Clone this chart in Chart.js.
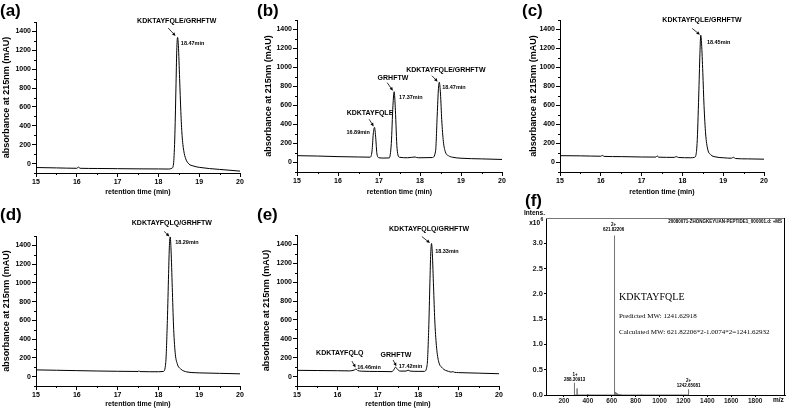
<!DOCTYPE html>
<html lang="en">
<head>
<meta charset="UTF-8">
<title>HPLC / MS panels</title>
<script src="https://cdn.jsdelivr.net/npm/chart.js@4"></script>
<style>
    body {
        margin: 0;
        background: #fff;
        width: 787px;
        height: 409px;
        position: relative;
        overflow: hidden;
    }
    canvas {
        position: absolute;
    }
</style>
</head>
<body>
<canvas id="ca" width="262" height="204" style="left:0;top:0"></canvas>
<canvas id="cb" width="269" height="204" style="left:255px;top:0"></canvas>
<canvas id="cc" width="266" height="204" style="left:521px;top:0"></canvas>
<canvas id="cd" width="262" height="205" style="left:0;top:204px"></canvas>
<canvas id="ce" width="269" height="205" style="left:255px;top:204px"></canvas>
<canvas id="cf" width="263" height="219" style="left:524px;top:190px"></canvas>
<script>
// ---- data (time in min, absorbance in mAU) ----
const timeA = [15.0, 15.5, 16.0, 16.04, 16.08, 16.5, 17.0, 17.5, 18.0, 18.25, 18.33, 18.37, 18.40, 18.43, 18.45, 18.47, 18.49, 18.52, 18.55, 18.58, 18.62, 18.67, 18.75, 18.85, 19.0, 19.5, 20.0];
const absA  = [-42, -46, -50, -38, -50, -52, -54, -56, -57, -58, -50, -5, 250, 800, 1200, 1337, 1250, 900, 550, 300, 140, 50, -5, -25, -40, -62, -80];

const timeB = [15.0, 15.5, 16.0, 16.5, 16.78, 16.83, 16.86, 16.89, 16.92, 16.95, 17.0, 17.1, 17.25, 17.30, 17.34, 17.37, 17.40, 17.44, 17.5, 17.7, 17.88, 17.92, 18.0, 18.3, 18.38, 18.42, 18.45, 18.47, 18.50, 18.53, 18.57, 18.62, 18.7, 18.8, 19.0, 19.5, 20.0];
const absB  = [72, 68, 62, 58, 56, 120, 300, 370, 260, 90, 50, 47, 48, 200, 600, 745, 550, 150, 55, 50, 58, 52, 50, 52, 120, 500, 780, 845, 720, 450, 220, 110, 70, 55, 45, 38, 32];

const timeC = [15.0, 15.5, 16.0, 16.04, 16.08, 16.5, 17.0, 17.35, 17.38, 17.42, 17.8, 17.85, 17.9, 18.2, 18.3, 18.36, 18.40, 18.43, 18.45, 18.47, 18.50, 18.53, 18.57, 18.62, 18.7, 18.8, 19.0, 19.2, 19.25, 19.3, 19.6, 20.0];
const absC  = [72, 70, 66, 75, 64, 62, 58, 57, 70, 56, 54, 62, 53, 50, 55, 200, 700, 1150, 1340, 1250, 950, 600, 300, 140, 80, 60, 50, 45, 55, 42, 38, 35];

const timeD = [15.0, 15.5, 16.0, 16.5, 17.0, 17.5, 17.52, 17.55, 18.0, 18.12, 18.18, 18.22, 18.25, 18.27, 18.29, 18.31, 18.34, 18.37, 18.41, 18.46, 18.55, 18.7, 18.9, 19.0, 19.5, 20.0];
const absD  = [72, 68, 64, 60, 57, 55, 60, 54, 52, 55, 150, 600, 1100, 1400, 1490, 1350, 950, 550, 260, 140, 80, 50, 42, 40, 35, 30];

const timeE = [15.0, 15.5, 16.0, 16.3, 16.42, 16.46, 16.5, 16.6, 17.0, 17.35, 17.40, 17.44, 17.48, 17.55, 17.7, 17.75, 17.8, 18.0, 18.15, 18.22, 18.26, 18.29, 18.31, 18.33, 18.35, 18.38, 18.41, 18.45, 18.5, 18.6, 18.75, 18.82, 18.86, 18.9, 19.0, 19.5, 20.0];
const absE  = [66, 64, 62, 60, 70, 80, 65, 57, 54, 52, 75, 100, 80, 58, 58, 68, 58, 55, 55, 120, 500, 1000, 1300, 1410, 1300, 950, 600, 330, 170, 90, 55, 48, 52, 45, 42, 36, 30];

const rtTicks = [15, 16, 17, 18, 19, 20];
const rtMinor = [15.5, 16.5, 17.5, 18.5, 19.5];
const absTicks = [0, 200, 400, 600, 800, 1000, 1200, 1400];
const absMinor = [-100, 100, 300, 500, 700, 900, 1100, 1300, 1500];

// ---- mass spectrum (m/z, intensity x10^6) ----
const msMz  = [288.3, 310.3, 400, 621.82, 622.32, 622.82, 623.32, 626, 630, 635, 640, 648, 656, 666, 676, 850, 1242.65, 1243.15];
const msInt = [0.24, 0.13, 0.02, 3.15, 0.78, 0.28, 0.10, 0.07, 0.06, 0.05, 0.04, 0.03, 0.02, 0.015, 0.01, 0.008, 0.11, 0.05];
const mzTicks = [200, 400, 600, 800, 1000, 1200, 1400, 1600, 1800];
const intTicks = [0, 0.5, 1.0, 1.5, 2.0, 2.5, 3.0];

const SANS = '"Liberation Sans", Arial, sans-serif';
const SERIF = '"Liberation Serif", "Times New Roman", serif';

// texts, arrows, minor ticks and frame drawn over each panel
const panelDecor = {
    id: 'panelDecor',
    afterDraw(chart, args, o) {
        const ctx = chart.ctx;
        const xs = chart.scales.x, ys = chart.scales.y;
        const area = chart.chartArea;
        ctx.save();
        ctx.strokeStyle = '#000';
        ctx.lineWidth = 1;

        // minor ticks
        (o.xMinor || []).forEach(v => {
            const px = Math.round(xs.getPixelForValue(v)) + 0.5;
            ctx.beginPath();
            ctx.moveTo(px, area.bottom);
            ctx.lineTo(px, area.bottom + 2);
            ctx.stroke();
        });
        (o.yMinor || []).forEach(v => {
            const py = Math.round(ys.getPixelForValue(v)) + 0.5;
            ctx.beginPath();
            ctx.moveTo(area.left - 2, py);
            ctx.lineTo(area.left, py);
            ctx.stroke();
        });

        // frame (mass spectrum)
        if (o.frame) {
            ctx.strokeStyle = '#777';
            ctx.beginPath();
            ctx.moveTo(area.left, Math.round(area.top) + 0.5);
            ctx.lineTo(area.right, Math.round(area.top) + 0.5);
            ctx.stroke();
            ctx.strokeStyle = '#000';
            ctx.beginPath();
            ctx.moveTo(Math.round(area.right) - 0.5, area.top);
            ctx.lineTo(Math.round(area.right) - 0.5, area.bottom);
            ctx.stroke();
        }

        // arrows
        ctx.fillStyle = '#000';
        (o.arrows || []).forEach(a => {
            const x1 = xs.getPixelForValue(a.x1), y1 = ys.getPixelForValue(a.y1);
            const x2 = xs.getPixelForValue(a.x2), y2 = ys.getPixelForValue(a.y2);
            const ang = Math.atan2(y2 - y1, x2 - x1);
            const hl = 3.5, hw = 1.6;
            ctx.lineWidth = 0.8;
            ctx.beginPath();
            ctx.moveTo(x1, y1);
            ctx.lineTo(x2 - Math.cos(ang) * hl, y2 - Math.sin(ang) * hl);
            ctx.stroke();
            ctx.beginPath();
            ctx.moveTo(x2, y2);
            ctx.lineTo(x2 - Math.cos(ang) * hl - Math.sin(ang) * hw, y2 - Math.sin(ang) * hl + Math.cos(ang) * hw);
            ctx.lineTo(x2 - Math.cos(ang) * hl + Math.sin(ang) * hw, y2 - Math.sin(ang) * hl - Math.cos(ang) * hw);
            ctx.closePath();
            ctx.fill();
        });

        // texts: data coordinates (x, y) or canvas pixels (px, py)
        (o.texts || []).forEach(t => {
            const weight = t.weight || 'bold';
            ctx.font = weight + ' ' + (t.size || 7) + 'px ' + (t.family || SANS);
            ctx.fillStyle = t.color || '#000';
            ctx.textAlign = t.align || 'center';
            ctx.textBaseline = 'middle';
            const px = t.px !== undefined ? t.px : xs.getPixelForValue(t.x);
            const py = t.py !== undefined ? t.py : ys.getPixelForValue(t.y);
            ctx.fillText(t.text, px, py);
        });
        ctx.restore();
    }
};

function chromChart(id, times, values, geo, decor) {
    const pts = times.map((t, i) => ({x: t, y: values[i]}));
    const tickFont = {family: SANS, size: 7, weight: 'bold'};
    return new Chart(document.getElementById(id), {
        type: 'line',
        data: {
            datasets: [{
                data: pts,
                borderColor: '#000',
                borderWidth: 1,
                pointRadius: 0,
                cubicInterpolationMode: 'monotone',
                fill: false
            }]
        },
        options: {
            responsive: false,
            animation: false,
            layout: {padding: {top: geo.padTop, right: geo.padRight, left: 0, bottom: 0}},
            plugins: {
                legend: {display: false},
                tooltip: {enabled: false},
                panelDecor: Object.assign({xMinor: rtMinor, yMinor: absMinor}, decor)
            },
            scales: {
                x: {
                    type: 'linear',
                    min: 15,
                    max: 20,
                    afterBuildTicks: s => { s.ticks = rtTicks.map(v => ({value: v})); },
                    afterFit: s => { s.height = geo.xH; },
                    grid: {drawOnChartArea: false, tickLength: 4, color: '#000'},
                    border: {color: '#000', width: 1},
                    ticks: {padding: 1, color: '#000', font: tickFont, maxRotation: 0, autoSkip: false,
                            callback: v => String(v)},
                    title: {
                        display: true, text: 'retention time (min)', color: '#000',
                        font: {family: SANS, size: 7, weight: 'bold'},
                        padding: {top: 0, bottom: geo.xTitlePad}
                    }
                },
                y: {
                    type: 'linear',
                    min: -100,
                    max: 1500,
                    afterBuildTicks: s => { s.ticks = absTicks.map(v => ({value: v})); },
                    afterFit: s => { s.width = geo.yW; },
                    grid: {drawOnChartArea: false, tickLength: 4, color: '#000'},
                    border: {color: '#000', width: 1},
                    ticks: {padding: 1, color: '#000', font: tickFont, autoSkip: false,
                            callback: v => String(v)},
                    title: {
                        display: true, text: 'absorbance at 215nm (mAU)', color: '#000',
                        font: {family: SANS, size: 9, weight: 'bold'},
                        padding: {top: geo.yTitlePad, bottom: 0}
                    }
                }
            }
        },
        plugins: [panelDecor]
    });
}

const LETTER = 17;

chromChart('ca', timeA, absA,
    {yW: 36, xH: 31, padTop: 22, padRight: 22, yTitlePad: 1.6, xTitlePad: 7.8},
    {
        texts: [
            {text: '(a)', px: 0, py: 11, size: LETTER, align: 'left'},
            {text: 'KDKTAYFQLE/GRHFTW', x: 18.45, y: 1510},
            {text: '18.47min', x: 18.55, y: 1277, size: 5.5, align: 'left'}
        ],
        arrows: [{x1: 18.24, y1: 1436, x2: 18.42, y2: 1352}]
    });

chromChart('cb', timeB, absB,
    {yW: 42, xH: 32, padTop: 20, padRight: 22, yTitlePad: 8.6, xTitlePad: 7.8},
    {
        texts: [
            {text: '(b)', px: 2, py: 11, size: LETTER, align: 'left'},
            {text: 'KDKTAYFQLE', x: 16.78, y: 523},
            {text: '16.89min', x: 16.78, y: 312, size: 5.5, align: 'right'},
            {text: 'GRHFTW', x: 17.34, y: 893},
            {text: '17.37min', x: 17.49, y: 681, size: 5.5, align: 'left'},
            {text: 'KDKTAYFQLE/GRHFTW', x: 18.63, y: 977},
            {text: '18.47min', x: 18.54, y: 787, size: 5.5, align: 'left'}
        ],
        arrows: [
            {x1: 16.76, y1: 455, x2: 16.87, y2: 380},
            {x1: 17.20, y1: 840, x2: 17.34, y2: 755},
            {x1: 18.29, y1: 914, x2: 18.43, y2: 850}
        ]
    });

chromChart('cc', timeC, absC,
    {yW: 39, xH: 32, padTop: 20, padRight: 23, yTitlePad: 7.6, xTitlePad: 7.8},
    {
        texts: [
            {text: '(c)', px: 1, py: 11, size: LETTER, align: 'left'},
            {text: 'KDKTAYFQLE/GRHFTW', x: 18.48, y: 1495},
            {text: '18.45min', x: 18.60, y: 1263, size: 5.5, align: 'left'}
        ],
        arrows: [{x1: 18.24, y1: 1411, x2: 18.43, y2: 1345}]
    });

chromChart('cd', timeD, absD,
    {yW: 36, xH: 23, padTop: 32, padRight: 22, yTitlePad: 1.6, xTitlePad: 0.8},
    {
        texts: [
            {text: '(d)', px: 0, py: 11, size: LETTER, align: 'left'},
            {text: 'KDKTAYFQLQ/GRHFTW', x: 18.33, y: 1634},
            {text: '18.29min', x: 18.41, y: 1432, size: 5.5, align: 'left'}
        ],
        arrows: [{x1: 18.14, y1: 1549, x2: 18.27, y2: 1496}]
    });

chromChart('ce', timeE, absE,
    {yW: 42, xH: 23, padTop: 31, padRight: 25, yTitlePad: 6.6, xTitlePad: 0.8},
    {
        texts: [
            {text: '(e)', px: 2, py: 11, size: LETTER, align: 'left'},
            {text: 'KDKTAYFQLQ/GRHFTW', x: 18.27, y: 1568},
            {text: '18.33min', x: 18.42, y: 1326, size: 5.5, align: 'left'},
            {text: 'KDKTAYFQLQ', x: 16.06, y: 248},
            {text: '16.46min', x: 16.49, y: 101, size: 5.5, align: 'left'},
            {text: 'GRHFTW', x: 17.45, y: 227},
            {text: '17.42min', x: 17.52, y: 111, size: 5.5, align: 'left'}
        ],
        arrows: [
            {x1: 18.09, y1: 1484, x2: 18.29, y2: 1415},
            {x1: 16.36, y1: 164, x2: 16.45, y2: 95},
            {x1: 17.38, y1: 175, x2: 17.46, y2: 108}
        ]
    });

// ---- panel (f): stick mass spectrum ----
const msPoints = [];
msMz.forEach((m, i) => {
    msPoints.push({x: m, y: 0}, {x: m, y: msInt[i]}, {x: m, y: 0});
});

new Chart(document.getElementById('cf'), {
    type: 'line',
    data: {
        datasets: [{
            data: msPoints,
            borderColor: '#777',
            borderWidth: 1,
            pointRadius: 0,
            tension: 0,
            fill: false
        }]
    },
    options: {
        responsive: false,
        animation: false,
        layout: {padding: {top: 28, right: 2, left: 0, bottom: 0}},
        plugins: {
            legend: {display: false},
            tooltip: {enabled: false},
            panelDecor: {
                frame: true,
                texts: [
                    {text: '(f)', px: 1, py: 11, size: LETTER, align: 'left'},
                    {text: 'Intens.', px: 21, py: 23, size: 6.5, align: 'right'},
                    {text: 'x10', px: 16, py: 33, size: 6.5, align: 'right'},
                    {text: '6', px: 16.5, py: 29.5, size: 5, align: 'left'},
                    {text: '20080071-ZHONGKEYUAN-PEPTIDE1_000001.d: +MS', x: 2025, y: 3.42, size: 4.5, align: 'right'},
                    {text: '2+', x: 615, y: 3.37, size: 4.5},
                    {text: '621.82206', x: 615, y: 3.27, size: 4.5},
                    {text: '1+', x: 293, y: 0.40, size: 4.5},
                    {text: '288.30913', x: 290, y: 0.31, size: 4.5},
                    {text: '2+', x: 1243, y: 0.28, size: 4.5},
                    {text: '1242.65081', x: 1243, y: 0.19, size: 4.5},
                    {text: 'KDKTAYFQLE', x: 661, y: 1.94, size: 10, family: SERIF, weight: 'normal', align: 'left'},
                    {text: 'Predicted MW: 1241.62918', x: 661, y: 1.56, size: 7, family: SERIF, weight: 'normal', align: 'left'},
                    {text: 'Calculated MW: 621.82206*2-1.0074*2=1241.62932', x: 661, y: 1.25, size: 7, family: SERIF, weight: 'normal', align: 'left'},
                    {text: 'm/z', x: 1995, y: -0.1, size: 6.5}
                ]
            }
        },
        scales: {
            x: {
                type: 'linear',
                min: 50,
                max: 2050,
                afterBuildTicks: s => { s.ticks = mzTicks.map(v => ({value: v})); },
                afterFit: s => { s.height = 14; },
                grid: {drawOnChartArea: false, tickLength: 2, color: '#000'},
                border: {color: '#000', width: 1},
                ticks: {padding: 0, color: '#222', font: {family: SANS, size: 6.5, weight: 'bold'}, maxRotation: 0, autoSkip: false,
                        callback: v => String(v)}
            },
            y: {
                type: 'linear',
                min: 0,
                max: 3.5,
                afterBuildTicks: s => { s.ticks = intTicks.map(v => ({value: v})); },
                afterFit: s => { s.width = 22; },
                grid: {drawOnChartArea: false, tickLength: 2, color: '#000'},
                border: {color: '#000', width: 1},
                ticks: {padding: 1, color: '#222', font: {family: SANS, size: 7.5, weight: 'bold'}, autoSkip: false,
                        callback: v => v.toFixed(1)}
            }
        }
    },
    plugins: [panelDecor]
});
</script>
</body>
</html>
